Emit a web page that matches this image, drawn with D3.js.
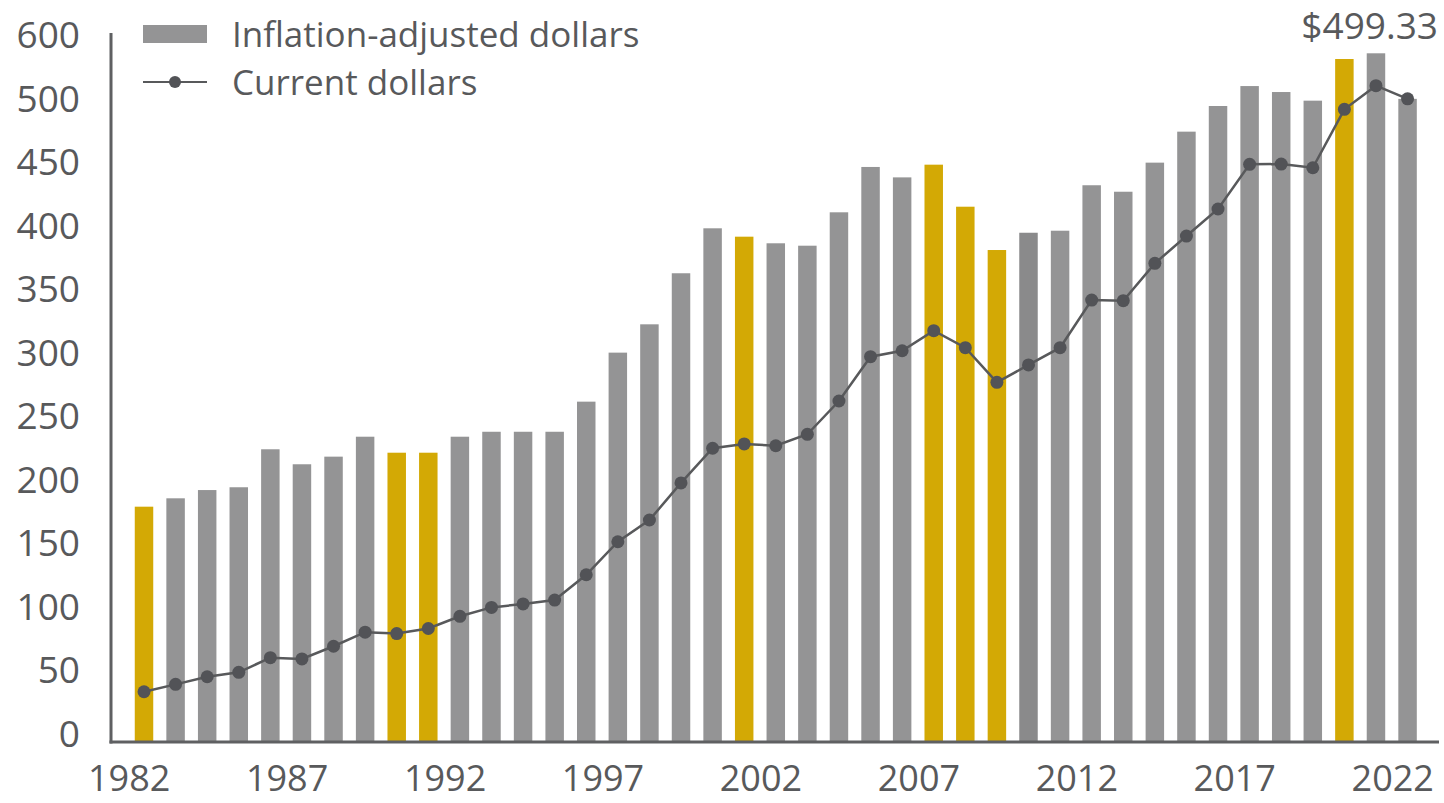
<!DOCTYPE html>
<html>
<head>
<meta charset="utf-8">
<script src="https://cdnjs.cloudflare.com/ajax/libs/d3/7.8.5/d3.min.js"></script>
<style>
  body { margin: 0; background: #ffffff; }
  text { font-family: "Open Sans", sans-serif; fill: #58595b; }
</style>
</head>
<body>
<div id="chart"></div>
<script>
// Data
var years = [1982, 1983, 1984, 1985, 1986, 1987, 1988, 1989, 1990, 1991,
  1992, 1993, 1994, 1995, 1996, 1997, 1998, 1999, 2000, 2001,
  2002, 2003, 2004, 2005, 2006, 2007, 2008, 2009, 2010, 2011,
  2012, 2013, 2014, 2015, 2016, 2017, 2018, 2019, 2020, 2021, 2022];

var inflationAdjusted = [178.2, 184.8, 191.3, 193.5, 223.4, 211.6, 217.6, 233.3, 220.7, 220.7,
  233.3, 237.2, 237.2, 237.2, 260.9, 299.5, 321.8, 362.0, 397.4, 390.8,
  385.6, 383.7, 410.0, 445.7, 437.5, 447.5, 414.4, 380.3, 393.9, 395.5,
  431.3, 426.2, 449.1, 473.5, 493.7, 509.4, 504.7, 497.9, 530.7, 535.2, 499.33];

var currentDollars = [32.5, 38.3, 44.3, 47.8, 59.3, 58.3, 68.3, 79.4, 78.3, 82.3,
  91.9, 98.9, 101.6, 104.7, 124.6, 150.6, 167.7, 196.9, 224.2, 227.6,
  226.2, 235.2, 261.4, 296.3, 301.0, 316.8, 303.4, 276.1, 289.8, 303.4,
  340.9, 340.4, 369.8, 391.3, 412.6, 447.8, 448.0, 445.1, 491.1, 509.7, 499.33];

// years drawn in gold
var recessionYears = [1982, 1990, 1991, 2001, 2007, 2008, 2009, 2020];
// slightly darker gray bar in the source
var darkYears = [2010];

var xTickYears = [1982, 1987, 1992, 1997, 2002, 2007, 2012, 2017, 2022];
var yTickValues = [0, 50, 100, 150, 200, 250, 300, 350, 400, 450, 500, 550];
var yTickLabels = ["0", "50", "100", "150", "200", "250", "300", "350", "400", "450", "500", "600"];

var legendLabels = ["Inflation-adjusted dollars", "Current dollars"];
var calloutLabel = "$499.33";

// Define SVG area dimensions
var svgWidth = 1444;
var svgHeight = 803;

var margin = {
  top: 34.5,
  right: 5,
  bottom: 70,
  left: 111
};

var colors = {
  text: "#58595b",
  axis: "#5f6062",
  bar: "#949495",
  barDark: "#8a8a8b",
  gold: "#d3a905",
  line: "#58595b",
  dot: "#525357"
};

var svg = d3.select("#chart")
  .append("svg")
  .attr("width", svgWidth)
  .attr("height", svgHeight);

// scales
var xScale = d3.scaleBand()
  .domain(years)
  .range([margin.left, svgWidth - margin.right])
  .paddingInner(0.415)
  .paddingOuter(0.7275)
  .align(0.517);

var yScale = d3.scaleLinear()
  .domain([0, 550])
  .range([svgHeight - margin.bottom, margin.top]);

// x axis line sits a little under zero in the source
var baseY = yScale(0) + 9;

var data = years.map(function(y, i) {
  return { year: y, adj: inflationAdjusted[i], cur: currentDollars[i] };
});

function barColor(d) {
  if (recessionYears.indexOf(d.year) >= 0) return colors.gold;
  if (darkYears.indexOf(d.year) >= 0) return colors.barDark;
  return colors.bar;
}

// bars
svg.append("g")
  .selectAll("rect")
  .data(data)
  .enter()
  .append("rect")
  .attr("x", d => xScale(d.year))
  .attr("width", xScale.bandwidth())
  .attr("y", d => yScale(d.adj))
  .attr("height", d => baseY - yScale(d.adj))
  .attr("fill", barColor);

// y axis
var leftAxis = d3.axisLeft(yScale)
  .tickValues(yTickValues)
  .tickFormat((d, i) => yTickLabels[i])
  .tickSize(0)
  .tickPadding(0);

var yAxis = svg.append("g")
  .attr("transform", "translate(80, 0)")
  .call(leftAxis);

yAxis.select(".domain").remove();
yAxis.selectAll("text")
  .attr("x", 0)
  .attr("dy", "0.36em")
  .attr("font-size", "37px")
  .attr("font-family", "'Open Sans', sans-serif")
  .attr("fill", colors.text);

// x axis
var bottomAxis = d3.axisBottom(xScale)
  .tickValues(xTickYears)
  .tickSize(0)
  .tickPadding(0);

var xAxis = svg.append("g")
  .attr("transform", `translate(0, ${baseY})`)
  .call(bottomAxis);

xAxis.select(".domain").remove();
xAxis.selectAll("text")
  .attr("y", 49)
  .attr("dy", 0)
  .attr("dx", -xScale.step() * 0.47)
  .attr("font-size", "36px")
  .attr("font-family", "'Open Sans', sans-serif")
  .attr("fill", colors.text);

// axis lines
svg.append("line")
  .attr("x1", margin.left)
  .attr("x2", margin.left)
  .attr("y1", yScale(550) - 1.5)
  .attr("y2", baseY + 1.5)
  .attr("stroke", colors.axis)
  .attr("stroke-width", 3);

svg.append("line")
  .attr("x1", margin.left - 1.5)
  .attr("x2", xScale.range()[1])
  .attr("y1", baseY)
  .attr("y2", baseY)
  .attr("stroke", colors.axis)
  .attr("stroke-width", 3);

// current dollars line
var lineGen = d3.line()
  .x(d => xScale(d.year) + xScale.bandwidth() / 2)
  .y(d => yScale(d.cur));

svg.append("path")
  .datum(data)
  .attr("d", lineGen)
  .attr("fill", "none")
  .attr("stroke", colors.line)
  .attr("stroke-width", 2.5);

svg.append("g")
  .selectAll("circle")
  .data(data)
  .enter()
  .append("circle")
  .attr("cx", d => xScale(d.year) + xScale.bandwidth() / 2)
  .attr("cy", d => yScale(d.cur))
  .attr("r", 6.5)
  .attr("fill", colors.dot);

// callout for the latest value
svg.append("text")
  .attr("x", 1438)
  .attr("y", 39)
  .attr("text-anchor", "end")
  .attr("font-size", "37px")
  .text(calloutLabel);

// legend
var legend = svg.append("g")
  .attr("transform", "translate(143, 0)");

legend.append("rect")
  .attr("x", 0)
  .attr("y", 25)
  .attr("width", 64)
  .attr("height", 18)
  .attr("fill", colors.bar);

legend.append("line")
  .attr("x1", 0)
  .attr("x2", 64)
  .attr("y1", 82)
  .attr("y2", 82)
  .attr("stroke", colors.line)
  .attr("stroke-width", 2);

legend.append("circle")
  .attr("cx", 32)
  .attr("cy", 82)
  .attr("r", 6)
  .attr("fill", colors.dot);

legend.selectAll("text.legend-label")
  .data(legendLabels)
  .enter()
  .append("text")
  .attr("class", "legend-label")
  .attr("x", 89)
  .attr("y", (d, i) => 47 + i * 48)
  .attr("font-size", "35px")
  .text(d => d);
</script>
</body>
</html>
